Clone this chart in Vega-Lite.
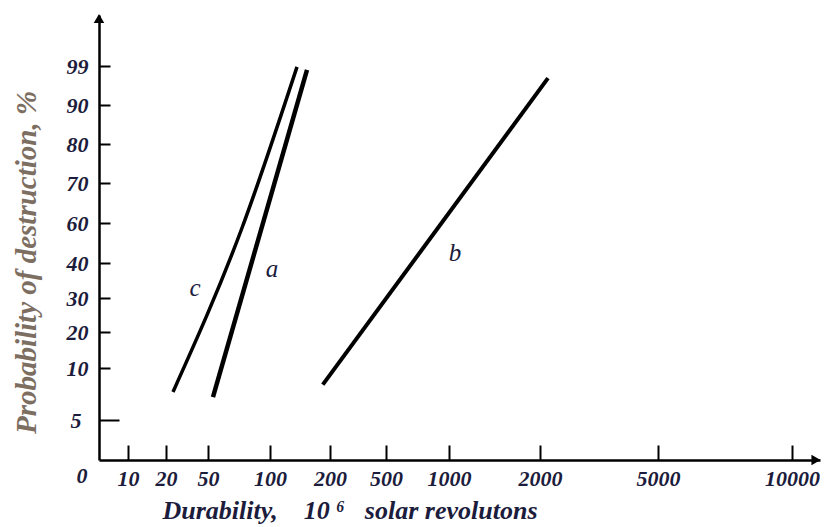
{
  "$schema": "https://vega.github.io/schema/vega-lite/v6.json",
  "width": 721,
  "height": 445,
  "autosize": "none",
  "padding": {"left": 99, "top": 15, "right": 6, "bottom": 67},
  "background": "white",
  "config": {"view": {"stroke": null}},
  "encoding": {
    "x": {
      "field": "d",
      "type": "quantitative",
      "scale": {
        "domain": [0, 10, 20, 50, 100, 200, 500, 1000, 2000, 5000, 10000, 11000],
        "range": [0, 29, 67, 109, 171, 231, 287, 350, 441, 559, 693, 721],
        "nice": false,
        "zero": false
      },
      "axis": {
        "values": [10, 20, 50, 100, 200, 500, 1000, 2000, 5000, 10000],
        "format": "d",
        "grid": false,
        "domainColor": "black",
        "domainWidth": 2.5,
        "tickColor": "black",
        "tickWidth": 2,
        "tickSize": -15,
        "labelPadding": 23,
        "labelBaseline": "top",
        "labelFont": "Liberation Serif",
        "labelFontSize": 22,
        "labelFontStyle": "italic",
        "labelFontWeight": "bold",
        "labelColor": "#1c1c3c",
        "labelOverlap": false,
        "labelFlush": false,
        "title": "Durability,\u00a0\u00a0\u00a0 10\u00a0⁶\u00a0\u00a0 solar revolutons",
        "titleFont": "Liberation Serif",
        "titleFontSize": 26,
        "titleFontStyle": "italic",
        "titleFontWeight": "bold",
        "titleColor": "#1c1c3c",
        "titleAlign": "left",
        "titleAnchor": "start",
        "titleBaseline": "alphabetic",
        "titleX": 63,
        "titleY": 58
      }
    },
    "y": {
      "field": "p",
      "type": "quantitative",
      "scale": {
        "domain": [0, 5, 10, 20, 30, 40, 60, 70, 80, 90, 99, 100],
        "range": [445, 405, 353, 317, 283, 248, 208, 168, 129, 90, 51, 0],
        "nice": false,
        "zero": false
      },
      "axis": {
        "values": [5, 10, 20, 30, 40, 60, 70, 80, 90, 99],
        "format": "d",
        "grid": false,
        "domainColor": "black",
        "domainWidth": 2.5,
        "tickColor": "black",
        "tickWidth": 2,
        "tickSize": {"condition": {"test": "datum.value == 5", "value": -20}, "value": -11},
        "labelPadding": {"condition": {"test": "datum.value == 5", "value": 38}, "value": 22},
        "labelFont": "Liberation Serif",
        "labelFontSize": 22,
        "labelFontStyle": "italic",
        "labelFontWeight": "bold",
        "labelColor": "#1c1c3c",
        "labelOverlap": false,
        "labelFlush": false,
        "title": "Probability of destruction, %",
        "titleFont": "Liberation Serif",
        "titleFontSize": 29,
        "titleFontStyle": "italic",
        "titleFontWeight": "bold",
        "titleColor": "#7d6e62",
        "titleAngle": -90,
        "titleAlign": "center",
        "titleBaseline": "middle",
        "titleX": -73,
        "titleY": 247
      }
    }
  },
  "layer": [
    {
      "data": {"values": [
        {"series": "a", "d": 54, "p": 7.2},
        {"series": "a", "d": 161.7, "p": 98.1},
        {"series": "b", "d": 188, "p": 8.4},
        {"series": "b", "d": 2203, "p": 96.2},
        {"series": "c", "d": 25, "p": 7.7},
        {"series": "c", "d": 77.4, "p": 57.5},
        {"series": "c", "d": 145, "p": 98.8}
      ]},
      "mark": {"type": "line", "color": "black", "strokeCap": "butt", "interpolate": "monotone"},
      "encoding": {
        "detail": {"field": "series", "type": "nominal"},
        "strokeWidth": {
          "field": "series",
          "type": "nominal",
          "scale": {"domain": ["a", "b", "c"], "range": [4.5, 3.5, 2.5]},
          "legend": null
        }
      }
    },
    {
      "data": {"values": [
        {"label": "a", "d": 103.3, "p": 38.3},
        {"label": "b", "d": 1066, "p": 45},
        {"label": "c", "d": 40.7, "p": 32.9}
      ]},
      "mark": {
        "type": "text",
        "font": "Liberation Serif",
        "fontSize": 25,
        "fontStyle": "italic",
        "color": "#1c1c3c",
        "align": "center",
        "baseline": "middle"
      },
      "encoding": {"text": {"field": "label", "type": "nominal"}}
    },
    {
      "data": {"values": [
        {"dir": "up", "d": 0, "p": 99.93},
        {"dir": "right", "d": 10857, "p": 0}
      ]},
      "mark": {"type": "point", "filled": true, "color": "black", "size": 110, "opacity": 1},
      "encoding": {
        "shape": {
          "field": "dir",
          "type": "nominal",
          "scale": {"domain": ["up", "right"], "range": ["triangle-up", "triangle-right"]},
          "legend": null
        }
      }
    },
    {
      "data": {"values": [{"label": "0", "d": 0, "p": 0}]},
      "mark": {
        "type": "text",
        "font": "Liberation Serif",
        "fontSize": 22,
        "fontStyle": "italic",
        "fontWeight": "bold",
        "color": "#1c1c3c",
        "align": "center",
        "baseline": "middle",
        "dx": -17,
        "dy": 16
      },
      "encoding": {"text": {"field": "label", "type": "nominal"}}
    }
  ]
}
